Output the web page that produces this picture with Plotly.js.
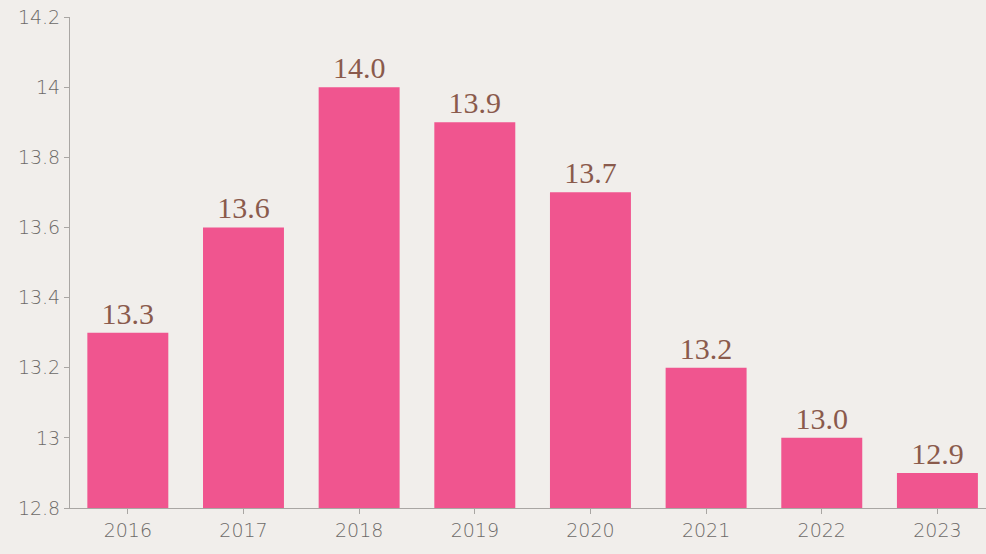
<!DOCTYPE html>
<html>
<head>
<meta charset="utf-8">
<script src="https://cdn.plot.ly/plotly-3.0.1.min.js"></script>
<style>html,body{margin:0;padding:0;background:#f1eeeb;}#chart{width:986px;height:554px;}</style>
</head>
<body>
<div id="chart"></div>
<script>
const years = ['2016','2017','2018','2019','2020','2021','2022','2023'];
const values = [13.3, 13.6, 14.0, 13.9, 13.7, 13.2, 13.0, 12.9];
const labels = ['13.3','13.6','14.0','13.9','13.7','13.2','13.0','12.9'];
const yTicks = [12.8, 13, 13.2, 13.4, 13.6, 13.8, 14, 14.2];
const yTickText = ['12.8','13','13.2','13.4','13.6','13.8','14','14.2'];

const tickFont = {family: 'DejaVu Sans, sans-serif', size: 19, color: '#6d6a68', weight: 200};

Plotly.newPlot('chart', [{
  type: 'bar',
  x: years,
  y: values,
  width: 0.7,
  marker: {color: '#f0558f'},
  text: labels,
  textposition: 'outside',
  textfont: {family: 'Liberation Serif, serif', size: 30, color: '#8a5a4c'},
  cliponaxis: false,
  hoverinfo: 'none'
}], {
  width: 986, height: 554,
  paper_bgcolor: '#f1eeeb', plot_bgcolor: '#f1eeeb',
  margin: {l: 70, r: 0, t: 17, b: 46},
  showlegend: false,
  xaxis: {
    type: 'category', range: [-0.5, 7.42],
    showline: true, linecolor: '#a9a6a3', linewidth: 1,
    ticks: 'outside', ticklen: 5, tickcolor: '#a9a6a3',
    tickfont: tickFont,
    showgrid: false, zeroline: false
  },
  yaxis: {
    range: [12.8, 14.2],
    tickvals: yTicks, ticktext: yTickText,
    showline: true, linecolor: '#a9a6a3', linewidth: 1,
    ticks: 'outside', ticklen: 5, tickcolor: '#a9a6a3',
    tickfont: tickFont,
    showgrid: false, zeroline: false
  }
}, {displayModeBar: false, staticPlot: true});
</script>
</body>
</html>
